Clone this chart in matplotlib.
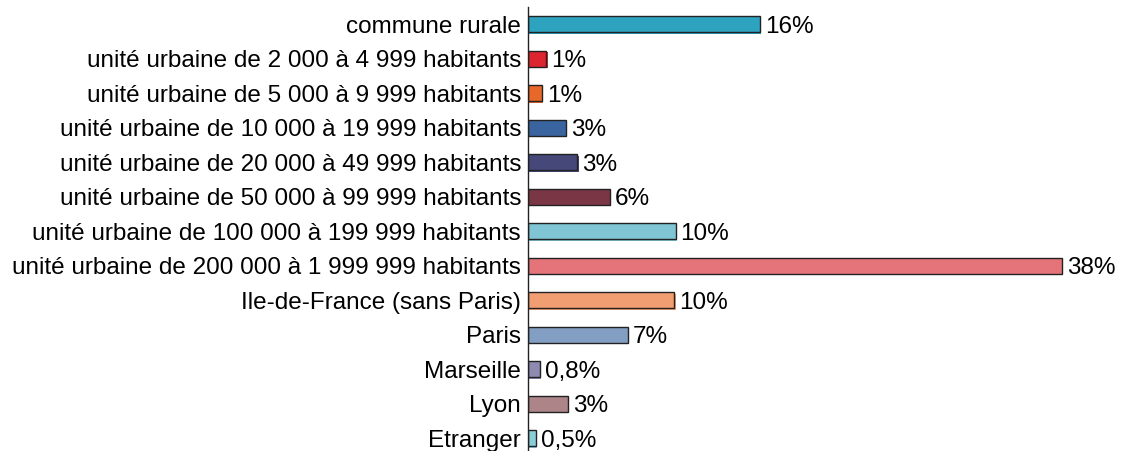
import matplotlib
matplotlib.use("Agg")
import matplotlib.pyplot as plt
import matplotlib.patheffects as pe

categories = [
    "commune rurale",
    "unité urbaine de 2 000 à 4 999 habitants",
    "unité urbaine de 5 000 à 9 999 habitants",
    "unité urbaine de 10 000 à 19 999 habitants",
    "unité urbaine de 20 000 à 49 999 habitants",
    "unité urbaine de 50 000 à 99 999 habitants",
    "unité urbaine de 100 000 à 199 999 habitants",
    "unité urbaine de 200 000 à 1 999 999 habitants",
    "Ile-de-France (sans Paris)",
    "Paris",
    "Marseille",
    "Lyon",
    "Etranger",
]
values = [16.5, 1.3, 1.0, 2.7, 3.5, 5.8, 10.5, 38.0, 10.4, 7.1, 0.85, 2.85, 0.57]
value_labels = ["16%", "1%", "1%", "3%", "3%", "6%", "10%", "38%", "10%", "7%", "0,8%", "3%", "0,5%"]
colors = ["#2ea3c0", "#dd2530", "#e8682a", "#3a64a0", "#454878", "#7b3646",
          "#7fc5d3", "#e5747a", "#f09e72", "#829fc3", "#8e8ab0", "#ad8488", "#88cdd8"]

plt.rcParams['font.family'] = ['Liberation Sans', 'DejaVu Sans']

W, H = 1123, 451
fig = plt.figure(figsize=(W / 100, H / 100), dpi=100)
ax_w = 584
ax = fig.add_axes([528 / W, 0.0, ax_w / W, 1 - 7 / H])

y = list(range(len(categories)))
bars = ax.barh(y, values, height=0.46, color=colors, edgecolor="#222222", linewidth=1.0)
for b, c in zip(bars, colors):
    b.set_path_effects([pe.SimplePatchShadow(offset=(1.0, -1.0), shadow_rgbFace=c, alpha=1.0), pe.Normal()])

for yi, v, lab in zip(y, values, value_labels):
    ax.annotate(lab, (v, yi), xytext=(3.5, 0), textcoords="offset points",
                va="center_baseline", ha="left", fontsize=17.5, color="black")

ax.set_yticks(y)
ax.set_yticklabels(categories, fontsize=17.5, color="black")
ax.tick_params(axis="y", length=0, pad=5)
ax.set_ylim(12.37, -0.5)
ax.set_xlim(0, ax_w * 38 / 534)
ax.set_xticks([])
for s in ["top", "right", "bottom"]:
    ax.spines[s].set_visible(False)
ax.spines["left"].set_color("#222222")
ax.spines["left"].set_linewidth(1.0)

fig.savefig("out.png", dpi=100)
